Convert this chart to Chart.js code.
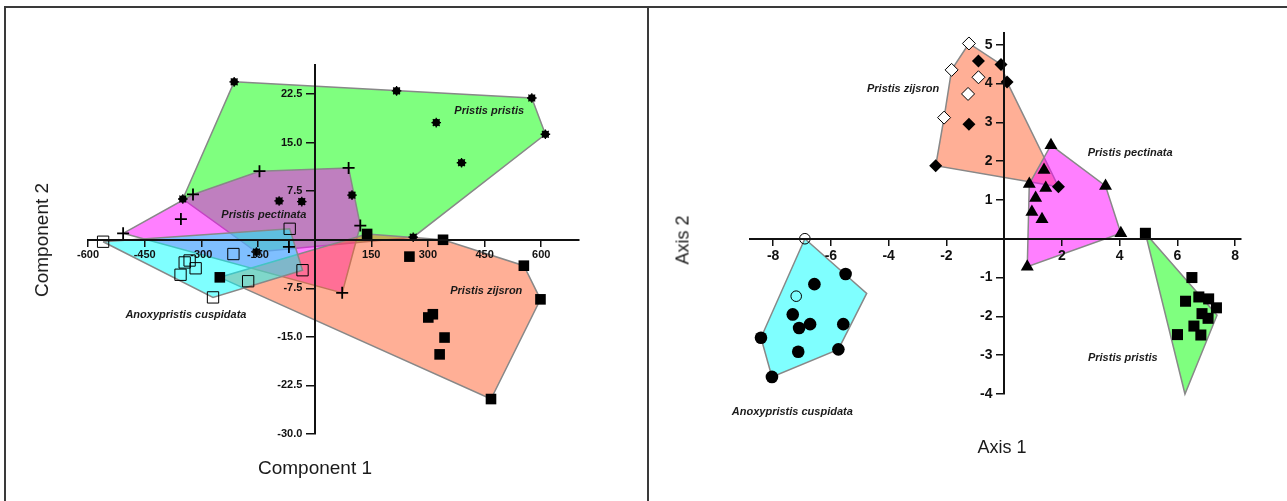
<!DOCTYPE html>
<html>
<head>
<meta charset="utf-8">
<script src="https://cdn.jsdelivr.net/npm/chart.js@4/dist/chart.umd.min.js"></script>
<style>
  html, body { margin: 0; padding: 0; background: #fff; }
  #wrap { position: relative; width: 1287px; height: 501px; overflow: hidden; background: #fff; }
  #c1 { position: absolute; left: 0; top: 0; }
  #c2 { position: absolute; left: 648px; top: 0; }
  .fr { position: absolute; background: #3a3a3a; }
  .title { position: absolute; font-family: "Liberation Sans", Arial, sans-serif; color: #1a1a1a; white-space: nowrap; transform: translate(-50%, -50%); }
  .rot { transform: translate(-50%, -50%) rotate(-90deg); }
</style>
</head>
<body>
<div id="wrap">
  <canvas id="c1" width="648" height="501"></canvas>
  <canvas id="c2" width="639" height="501"></canvas>
  <div class="fr" style="left:4px;top:6px;width:1283px;height:1.5px;"></div>
  <div class="fr" style="left:4px;top:6px;width:1.5px;height:495px;"></div>
  <div class="fr" style="left:647px;top:6px;width:1.5px;height:495px;"></div>
  <div class="title" style="left:315px;top:468px;font-size:19px;">Component 1</div>
  <div class="title rot" style="left:42px;top:240px;font-size:19px;">Component 2</div>
  <div class="title" style="left:1002px;top:447px;font-size:18px;">Axis 1</div>
  <div class="title rot" style="left:683px;top:240px;font-size:18px;">Axis 2</div>
</div>
<script>
// ---------------- Left panel: Component 1 / Component 2 ----------------
const compXTicks = [-600, -450, -300, -150, 0, 150, 300, 450, 600];
const compYTicks = [-30, -22.5, -15, -7.5, 0, 7.5, 15, 22.5];

const compPristis = [[-213, 24.4], [217, 23.0], [575, 21.9], [611, 16.3], [322, 18.1], [389, 11.9],
  [99, 6.9], [261, 0.4], [-349, 6.3], [-94, 6.0], [-34, 5.9], [-154, -1.9]];
const compPristisHull = [[-213, 24.4], [575, 21.9], [611, 16.3], [261, 0.4], [-154, -1.9], [-349, 6.3]];

const compPectinata = [[-146, 10.6], [90, 11.1], [-322, 7.0], [-354, 3.2], [-507, 1.0], [-68, -1.1],
  [121, 2.2], [73, -8.2]];
const compPectinataHull = [[-507, 1.0], [-322, 7.0], [-146, 10.6], [90, 11.1], [121, 2.2], [73, -8.2]];

const compZijsron = [[-251, -5.8], [139, 0.9], [340, 0.0], [251, -2.6], [554, -4.0], [598, -9.2],
  [313, -11.5], [301, -12.0], [344, -15.1], [331, -17.7], [467, -24.6]];
const compZijsronHull = [[-251, -5.8], [139, 0.9], [340, 0.0], [554, -4.0], [598, -9.2], [467, -24.6]];

const compAnoxy = [[-560, -0.3], [-215, -2.2], [-344, -3.5], [-331, -3.2], [-315, -4.4], [-355, -5.4],
  [-269, -8.9], [-176, -6.4], [-32, -4.7], [-66, 1.7]];
const compAnoxyHull = [[-560, -0.3], [-66, 1.7], [-32, -4.7], [-269, -8.9]];

const compLabelText = ['Pristis pristis', 'Pristis pectinata', 'Pristis zijsron', 'Anoxypristis cuspidata'];
const compLabelAt = [[370, 19.9], [-247, 3.9], [359, -7.9], [-501, -11.65]];

// ---------------- Right panel: Axis 1 / Axis 2 ----------------
const axXTicks = [-8, -6, -4, -2, 0, 2, 4, 6, 8];
const axYTicks = [-4, -3, -2, -1, 0, 1, 2, 3, 4, 5];

const axAnoxyFilled = [[-5.49, -0.91], [-6.57, -1.17], [-7.32, -1.95], [-6.72, -2.2], [-7.1, -2.3],
  [-5.57, -2.2], [-8.42, -2.55], [-7.13, -2.91], [-5.74, -2.85], [-8.04, -3.56]];
const axAnoxyOpen = [[-6.9, 0.0], [-7.2, -1.48]];
const axAnoxyHull = [[-6.9, 0.0], [-4.76, -1.41], [-5.74, -2.85], [-8.04, -3.56], [-8.42, -2.55]];

const axPristis = [[4.89, 0.14], [6.5, -1.0], [6.28, -1.61], [6.74, -1.5], [7.08, -1.55], [7.35, -1.78],
  [6.85, -1.93], [7.06, -2.05], [6.57, -2.25], [6.81, -2.48], [6.0, -2.47]];
const axPristisHull = [[4.89, 0.14], [7.37, -1.97], [6.26, -4.0]];

const axPectinata = [[1.62, 2.41], [1.38, 1.77], [0.87, 1.41], [1.44, 1.31], [1.09, 1.05], [0.96, 0.69],
  [1.31, 0.5], [3.51, 1.36], [4.04, 0.14], [0.8, -0.72]];
const axPectinataHull = [[1.62, 2.41], [3.51, 1.36], [4.04, 0.14], [0.8, -0.72], [0.87, 1.41]];

const axZijsronFilled = [[-0.89, 4.58], [-0.11, 4.49], [0.1, 4.04], [-1.22, 2.95], [-2.37, 1.88], [1.88, 1.34]];
const axZijsronOpen = [[-1.22, 5.03], [-1.82, 4.35], [-0.89, 4.16], [-1.25, 3.73], [-2.08, 3.12]];
const axZijsronHull = [[-1.22, 5.03], [-0.11, 4.49], [0.1, 4.04], [1.88, 1.34], [-2.37, 1.88], [-2.08, 3.12], [-1.82, 4.35]];

const axLabelText = ['Pristis zijsron', 'Pristis pectinata', 'Pristis pristis', 'Anoxypristis cuspidata'];
const axLabelAt = [[-4.75, 3.86], [2.89, 2.2], [2.9, -3.06], [-9.43, -4.46]];

// ---------------- helpers ----------------
const pts = a => a.map(([x, y]) => ({x, y}));
const closed = a => pts(a.concat([a[0]]));

const GREEN = 'rgba(0,255,0,0.5)';
const MAGENTA = 'rgba(255,0,255,0.5)';
const CYAN = 'rgba(0,255,255,0.5)';
const SALMON = 'rgba(255,95,45,0.5)';

function hullDs(arr, color) {
  return { data: closed(arr), showLine: true, fill: 'shape', backgroundColor: color,
    borderColor: '#888', borderWidth: 1.5, pointRadius: 0, pointHoverRadius: 0, tension: 0, clip: false };
}
function markDs(arr, style, r, bg, bw) {
  return { data: pts(arr), showLine: false, pointStyle: style, pointRadius: r, pointHoverRadius: r,
    backgroundColor: bg, borderColor: '#000', borderWidth: bw, clip: false };
}

const labelPlugin = {
  id: 'speciesLabels',
  afterDatasetsDraw(chart, args, opts) {
    const {ctx, scales: {x, y}} = chart;
    ctx.save();
    ctx.font = 'italic bold 11px "Liberation Sans", Arial, sans-serif';
    ctx.fillStyle = '#1a1a1a';
    ctx.textAlign = 'left';
    ctx.textBaseline = 'middle';
    opts.text.forEach((t, i) => {
      ctx.fillText(t, x.getPixelForValue(opts.at[i][0]), y.getPixelForValue(opts.at[i][1]));
    });
    ctx.restore();
  }
};

// y-axis positioned at x = 0: Chart.js right-aligns its labels on the axis line itself,
// so a little trailing space keeps them clear of the tick marks.
function scaleCfg(min, max, tickVals, pos, fontSize, tickLen, fmt, gap) {
  return {
    type: 'linear', position: pos, min, max,
    afterBuildTicks: s => { s.ticks = tickVals.map(v => ({value: v})); },
    grid: { z: 1, drawOnChartArea: false, drawTicks: true, tickLength: tickLen, color: '#111', lineWidth: 1.5 },
    border: { z: 1, display: true, color: '#111', width: 2 },
    ticks: { z: 1, autoSkip: false, maxRotation: 0, padding: 3, color: '#111',
      font: { family: '"Liberation Sans", Arial, sans-serif', weight: 'bold', size: fontSize },
      callback: v => (v === 0 ? '' : fmt(v) + gap) }
  };
}

function baseOptions(padding, xs, ys, labels) {
  return {
    responsive: false, animation: false, events: [],
    layout: { padding },
    scales: { x: xs, y: ys },
    plugins: { legend: { display: false }, tooltip: { enabled: false },
      speciesLabels: labels }
  };
}

// ---------------- left chart ----------------
new Chart(document.getElementById('c1'), {
  type: 'scatter',
  data: { datasets: [
    markDs(compPristis, 'circle', 3.8, '#000', 0),
    markDs(compPristis, 'star', 4.8, '#000', 1.3),
    markDs(compPectinata, 'cross', 6, '#000', 1.8),
    markDs(compZijsron, 'rect', 7.5, '#000', 0),
    markDs(compAnoxy, 'rect', 8, 'rgba(0,0,0,0)', 1),
    hullDs(compAnoxyHull, CYAN),
    hullDs(compZijsronHull, SALMON),
    hullDs(compPectinataHull, MAGENTA),
    hullDs(compPristisHull, GREEN)
  ]},
  options: baseOptions({left: 88, right: 69, top: 65, bottom: 67},
    scaleCfg(-600, 700, compXTicks, {y: 0}, 11, 6, v => String(v), ''),
    scaleCfg(-30, 27, compYTicks, {x: 0}, 11, 8, v => v.toFixed(1), '    '),
    { text: compLabelText, at: compLabelAt }),
  plugins: [labelPlugin]
});

// ---------------- right chart ----------------
new Chart(document.getElementById('c2'), {
  type: 'scatter',
  data: { datasets: [
    markDs(axAnoxyFilled, 'circle', 6.3, '#000', 0),
    markDs(axAnoxyOpen, 'circle', 5.3, 'rgba(0,0,0,0)', 1),
    markDs(axPristis, 'rect', 7.8, '#000', 0),
    markDs(axPectinata, 'triangle', 7.5, '#000', 0),
    markDs(axZijsronFilled, 'rectRot', 6.5, '#000', 0),
    markDs(axZijsronOpen, 'rectRot', 6.5, '#fff', 1),
    hullDs(axPectinataHull, MAGENTA),
    hullDs(axZijsronHull, SALMON),
    hullDs(axAnoxyHull, CYAN),
    hullDs(axPristisHull, GREEN)
  ]},
  options: baseOptions({left: 102, right: 46, top: 33, bottom: 107},
    scaleCfg(-8.8, 8.2, axXTicks, {y: 0}, 14, 6, v => String(v), ''),
    scaleCfg(-4, 5.3, axYTicks, {x: 0}, 14, 7, v => String(v), '   '),
    { text: axLabelText, at: axLabelAt }),
  plugins: [labelPlugin]
});
</script>
</body>
</html>
